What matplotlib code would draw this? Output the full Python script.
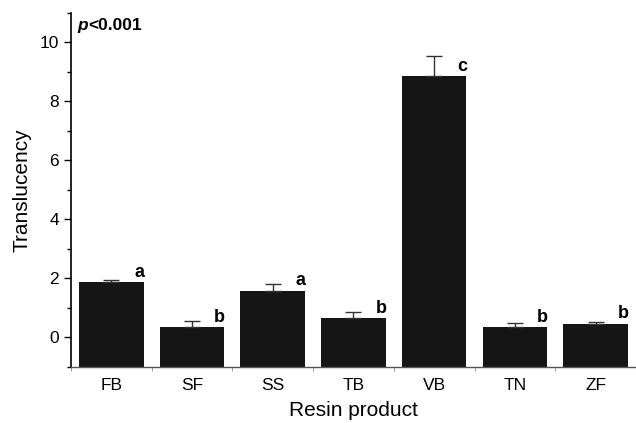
import matplotlib.pyplot as plt
import numpy as np

plt.rcParams['font.family'] = ['Liberation Sans', 'DejaVu Sans']

products = ["FB", "SF", "SS", "TB", "VB", "TN", "ZF"]
translucency = [1.87, 0.34, 1.58, 0.66, 8.85, 0.35, 0.47]
sd = [0.07, 0.23, 0.24, 0.20, 0.68, 0.14, 0.06]
groups = ["a", "b", "a", "b", "c", "b", "b"]

ymin = -1

fig = plt.figure(figsize=(6.36, 4.23), dpi=100)
ax = fig.add_axes([0.1116, 0.1324, 0.8884, 0.8369])

x = np.arange(len(products))
vals = np.array(translucency)
# bars are drawn up from the bottom of the axis, as in the original
ax.bar(x, vals - ymin, bottom=ymin, width=0.8, color="#151515", zorder=2)
ax.errorbar(x, vals, yerr=[np.zeros(len(sd)), sd], fmt="none",
            ecolor="#333333", elinewidth=1.0, capsize=6, capthick=1.0, zorder=3)

for xi, val, g in zip(x, vals, groups):
    ax.text(xi + 0.41, val + 0.05, g, ha="right", va="bottom",
            fontsize=13, fontweight="bold")

# "p" in bold italic, then the rest in bold
p_txt = ax.text(0.012, 0.985, "p", transform=ax.transAxes, ha="left", va="top",
                fontsize=12.5, fontweight="bold", fontstyle="italic")
ax.annotate("<0.001", xy=(1, 0), xycoords=p_txt, ha="left", va="bottom",
            fontsize=12.5, fontweight="bold")

ax.set_xlim(-0.5, 6.5)
ax.set_ylim(ymin, 11)
ax.set_yticks([0, 2, 4, 6, 8, 10])
ax.set_yticks([-1, 1, 3, 5, 7, 9, 11], minor=True)
ax.set_xticks(x)
ax.set_xticklabels(products)
ax.set_xticks(np.arange(-0.5, 7, 1), minor=True)
ax.tick_params(axis="x", which="major", length=0, labelsize=12.5, pad=8)
ax.tick_params(axis="x", which="minor", length=3, color="#888888")
ax.tick_params(axis="y", which="major", length=5, width=1, labelsize=12.5)
ax.tick_params(axis="y", which="minor", length=3, width=1)

ax.spines["top"].set_visible(False)
ax.spines["right"].set_visible(False)
ax.spines["left"].set_linewidth(1.2)
ax.spines["bottom"].set_linewidth(1.0)
ax.spines["bottom"].set_color("#555555")

ax.set_ylabel("Translucency", fontsize=15, labelpad=6)
ax.set_xlabel("Resin product", fontsize=15, labelpad=6)

fig.savefig("out.png", dpi=100)
